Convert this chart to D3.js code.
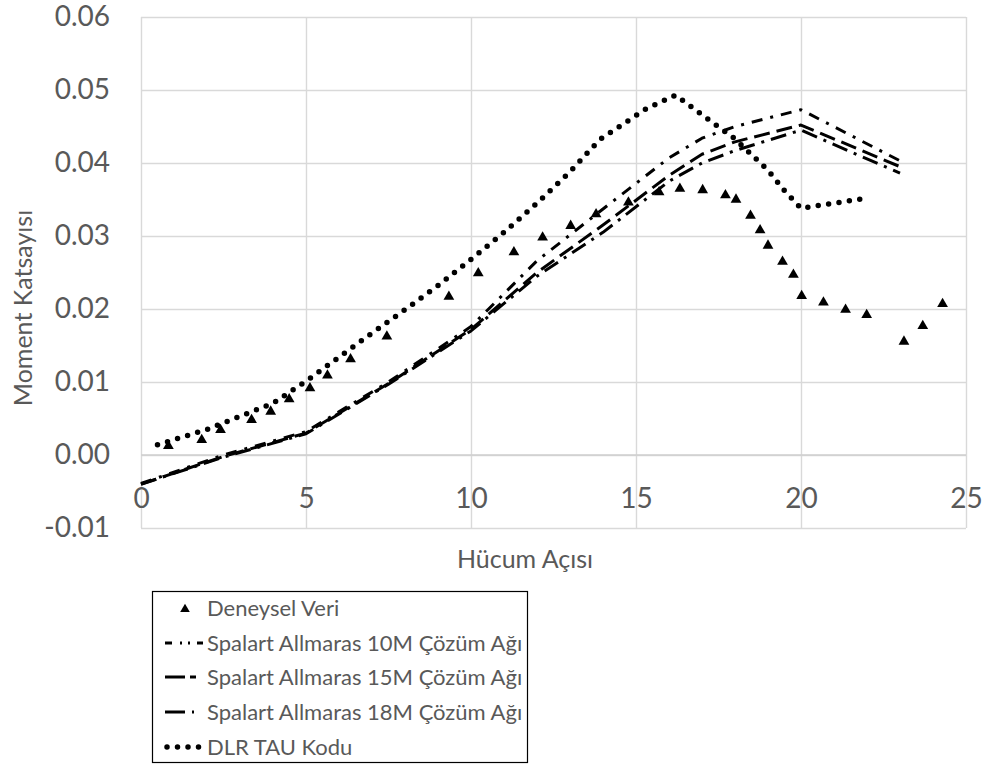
<!DOCTYPE html>
<html><head><meta charset="utf-8">
<script src="https://cdn.jsdelivr.net/npm/d3@7"></script>
<style>html,body{margin:0;padding:0;background:#fff;} svg{display:block;font-family:Lato,"Open Sans",sans-serif;}</style>
</head><body><svg id="c" width="986" height="767"></svg>
<script>
const xTicks = [0, 5, 10, 15, 20, 25];
const yTicks = [-0.01, 0, 0.01, 0.02, 0.03, 0.04, 0.05, 0.06];

const expAlpha = [0.83,1.84,2.41,3.35,3.93,4.49,5.12,5.65,6.35,7.45,9.33,10.22,11.3,12.17,13.02,13.79,14.77,15.7,16.33,17.02,17.71,18.03,18.47,18.76,19.0,19.44,19.77,20.02,20.68,21.35,21.99,23.12,23.69,24.29];
const expCm = [0.00146,0.00228,0.00365,0.00502,0.00616,0.00785,0.00936,0.0111,0.01333,0.01644,0.0219,0.0251,0.0280,0.0300,0.0316,0.0332,0.0348,0.0362,0.0367,0.0365,0.0358,0.0352,0.0330,0.0310,0.0289,0.0267,0.0249,0.0220,0.0211,0.0201,0.0194,0.01575,0.0179,0.0209];

const saAlpha = [0, 2.5, 5, 7.5, 10, 12, 14, 16, 17, 18, 20, 23];
const sa10Cm = [-0.0039, 0.0000, 0.0032, 0.0100, 0.0176, 0.0266, 0.0337, 0.0407, 0.0434, 0.0450, 0.0473, 0.0403];
const sa15Cm = [-0.0040, -0.0002, 0.0030, 0.0098, 0.0172, 0.0250, 0.0315, 0.0383, 0.0412, 0.0429, 0.0452, 0.0395];
const sa18Cm = [-0.0040, -0.0003, 0.0029, 0.0097, 0.0170, 0.0245, 0.0305, 0.0375, 0.0400, 0.0417, 0.0445, 0.0386];

const dlrAlpha = [0.5, 2, 4, 5, 6, 7, 8, 9, 10, 11, 12, 13, 13.9, 15.3, 16.2, 17, 18, 19, 19.5, 20, 21, 22];
const dlrCm = [0.0014,0.0035,0.0071,0.0101,0.0134,0.0167,0.0199,0.0232,0.0268,0.0305,0.0345,0.0388,0.0432,0.0474,0.0493,0.0466,0.0433,0.0390,0.0362,0.0338,0.0345,0.0352];

const legendLabels = ["Deneysel Veri","Spalart Allmaras 10M Çözüm Ağı","Spalart Allmaras 15M Çözüm Ağı","Spalart Allmaras 18M Çözüm Ağı","DLR TAU Kodu"];

const svg = d3.select("#c");
const L = 141, R = 966, T = 17, B = 528;
const x = d3.scaleLinear().domain([0, 25]).range([L, R]);
const y = d3.scaleLinear().domain([-0.01, 0.06]).range([B, T]);
const txt = "#595959", grid = "#d9d9d9";

// gridlines
const gy = svg.append("g").attr("transform", `translate(${L},0)`)
  .call(d3.axisLeft(y).tickValues(yTicks).tickSize(-(R - L)).tickFormat(""));
gy.select(".domain").remove();
gy.selectAll("line").attr("stroke", grid).attr("stroke-width", 1.4);
const gx = svg.append("g").attr("transform", `translate(0,${B})`)
  .call(d3.axisBottom(x).tickValues(xTicks).tickSize(-(B - T)).tickFormat(""));
gx.select(".domain").remove();
gx.selectAll("line").attr("stroke", grid).attr("stroke-width", 1.4);

// zero axis line
svg.append("line").attr("x1", L).attr("x2", R).attr("y1", y(0)).attr("y2", y(0))
  .attr("stroke", "#cfcfcf").attr("stroke-width", 1.4);

// tick labels
const fmtY = d => d3.format(".2f")(d).replace("\u2212", "-");
const ay = svg.append("g").attr("transform", `translate(${L},0)`)
  .call(d3.axisLeft(y).tickValues(yTicks).tickSize(0).tickPadding(31).tickFormat(fmtY));
ay.select(".domain").remove();
ay.selectAll("text").attr("fill", txt).style("font-size", "28px").style("font-family", "Lato");

const ax = svg.append("g").attr("transform", `translate(0,${y(0)})`)
  .call(d3.axisBottom(x).tickValues(xTicks).tickSize(0).tickPadding(33).tickFormat(d3.format("d")));
ax.select(".domain").remove();
ax.selectAll("text").attr("fill", txt).style("font-size", "28px").style("font-family", "Lato");

// axis titles
svg.append("text").attr("x", 525).attr("y", 568).attr("text-anchor", "middle")
  .attr("fill", txt).style("font-size", "25px").text("Hücum Açısı");
svg.append("text").attr("transform", "translate(32,308) rotate(-90)").attr("text-anchor", "middle")
  .attr("fill", txt).style("font-size", "25px").text("Moment Katsayısı");

const line = d3.line().x(d => x(d[0])).y(d => y(d[1]));
const styles = {
  sa10: {w: 3, dash: "11,8,3,8", cap: "butt"},
  sa15: {w: 3, dash: "16,7", cap: "butt"},
  sa18: {w: 3, dash: "16,7,3,7", cap: "butt"},
  dlr: {w: 5.5, dash: "0,10.5", cap: "round"}
};
function drawLine(xs, ys, st) {
  svg.append("path").datum(xs.map((a, i) => [a, ys[i]]))
    .attr("d", line).attr("fill", "none").attr("stroke", "#000")
    .attr("stroke-width", st.w).attr("stroke-dasharray", st.dash)
    .attr("stroke-linecap", st.cap).attr("stroke-linejoin", "round");
}
drawLine(saAlpha, sa10Cm, styles.sa10);
drawLine(saAlpha, sa15Cm, styles.sa15);
drawLine(saAlpha, sa18Cm, styles.sa18);
drawLine(dlrAlpha, dlrCm, styles.dlr);

const tri = d3.symbol().type(d3.symbolTriangle).size(50);
svg.append("g").selectAll("path").data(expAlpha.map((a, i) => [a, expCm[i]])).join("path")
  .attr("d", tri).attr("fill", "#000")
  .attr("transform", d => `translate(${x(d[0])},${y(d[1]) + 1.5})`);

// legend
const lg = svg.append("g");
lg.append("rect").attr("x", 152.5).attr("y", 591.5).attr("width", 375).attr("height", 171)
  .attr("fill", "#fff").attr("stroke", "#000").attr("stroke-width", 1.2);
const rowY = [608, 643, 677, 712, 747];
const legStyles = [null, {w: 3, dash: "7,8,2,6,2,7,7", cap: "butt"}, {w: 3, dash: "20,5,6", cap: "butt"}, {w: 3, dash: "20,7,2,20", cap: "butt"}, styles.dlr];
legendLabels.forEach((lab, i) => {
  if (i === 0) {
    lg.append("path").attr("d", d3.symbol().type(d3.symbolTriangle).size(40)())
      .attr("fill", "#000").attr("transform", `translate(185,${rowY[i] + 1.3})`);
  } else {
    const st = legStyles[i];
    lg.append("line").attr("x1", st.cap === "round" ? 167 : 165).attr("x2", 203)
      .attr("y1", rowY[i]).attr("y2", rowY[i]).attr("stroke", "#000")
      .attr("stroke-width", st.w).attr("stroke-dasharray", st.dash).attr("stroke-linecap", st.cap);
  }
  lg.append("text").attr("x", 207).attr("y", rowY[i]).attr("dy", "0.36em")
    .attr("fill", txt).style("font-size", "22px").text(lab);
});
</script></body></html>
